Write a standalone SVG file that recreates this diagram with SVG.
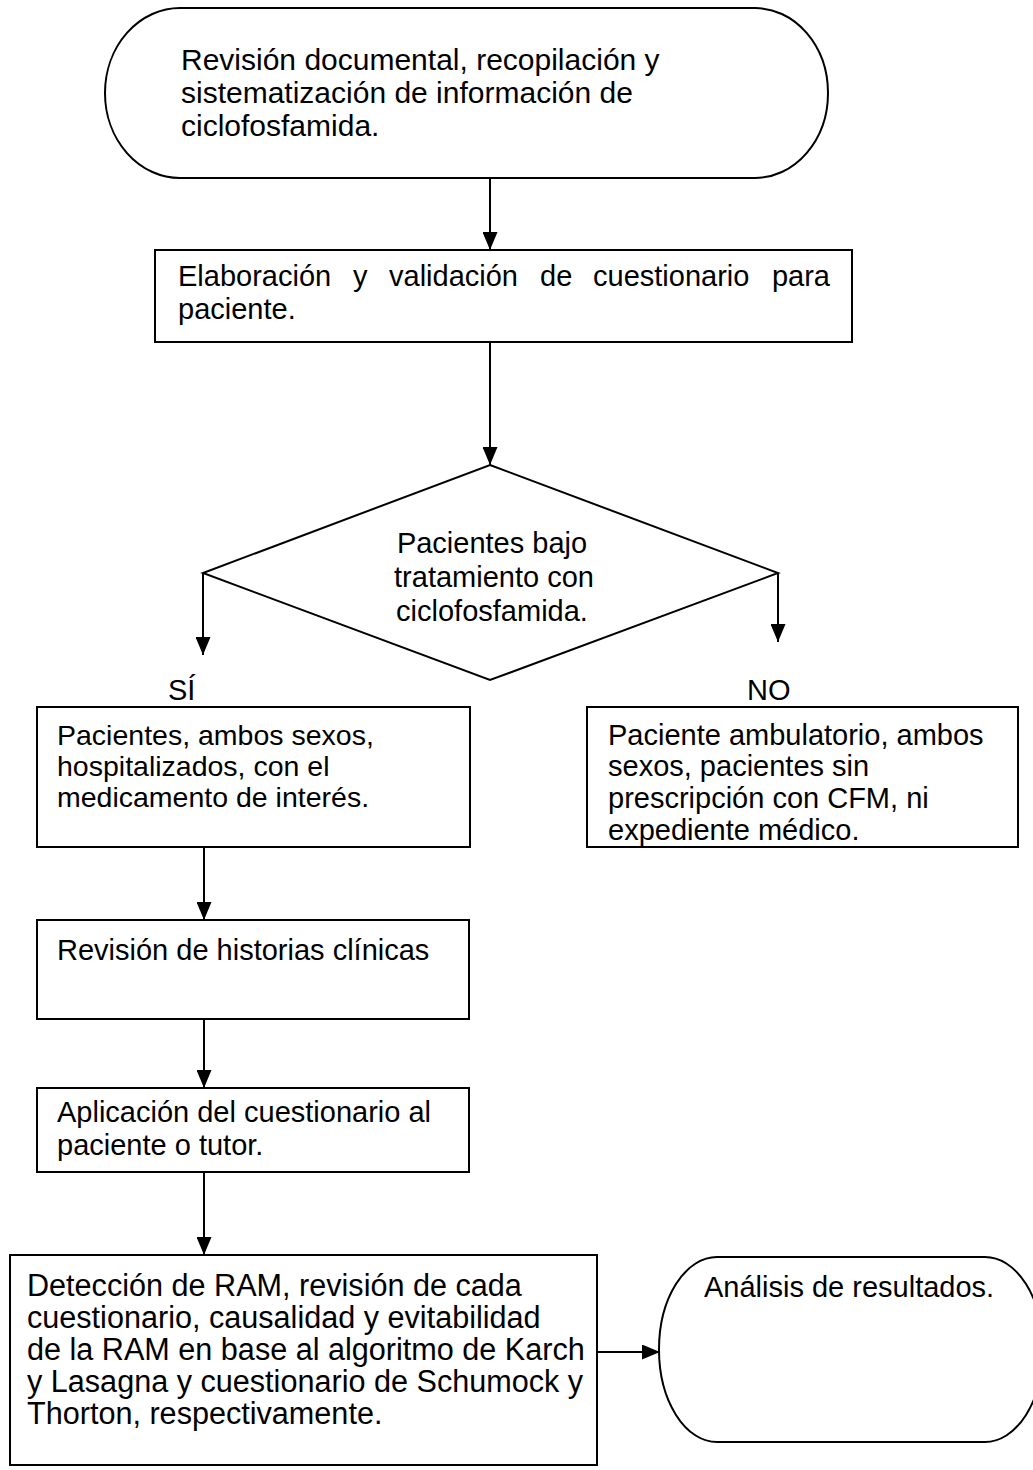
<svg xmlns="http://www.w3.org/2000/svg" width="1033" height="1470" viewBox="0 0 1033 1470">
<style>
.s{fill:#fff;stroke:#000;stroke-width:2}
.t{font-family:"Liberation Sans",Arial,sans-serif;fill:#000}
.f29{font-size:29px}
.f30{font-size:30px}
.f31{font-size:30.6px}
.f285{font-size:28.5px}
.c{stroke:#000;stroke-width:2;fill:none;marker-end:url(#ah)}
</style>
<defs>
<marker id="ah" markerUnits="userSpaceOnUse" markerWidth="18" markerHeight="15" refX="18" refY="7.5" orient="auto">
<path d="M0,0 L18,7.5 L0,15 Z" fill="#000"/>
</marker>
</defs>
<rect width="1033" height="1470" fill="#fff"/>
<g id="connectors">
<line class="c" x1="490" y1="178" x2="490" y2="250"/>
<line class="c" x1="490" y1="342" x2="490" y2="465"/>
<line class="c" x1="203" y1="573" x2="203" y2="655"/>
<line class="c" x1="778" y1="573" x2="778" y2="642"/>
<line class="c" x1="204" y1="847" x2="204" y2="920"/>
<line class="c" x1="204" y1="1019" x2="204" y2="1088"/>
<line class="c" x1="204" y1="1172" x2="204" y2="1255"/>
<line class="c" x1="597" y1="1352" x2="660" y2="1352"/>
</g>
<g id="n1">
<path class="s" d="M180,8 L755,8 A73,85 0 0 1 755,178 L180,178 A75,85 0 0 1 180,8 Z"/>
<text class="t f30"><tspan x="181" y="70">Revisión documental, recopilación  y</tspan><tspan x="181" y="103">sistematización de información de</tspan><tspan x="181" y="136">ciclofosfamida.</tspan></text>
</g>
<g id="n2">
<rect class="s" x="155" y="250" width="697" height="92"/>
<text class="t f29"><tspan x="178" y="286">Elaboración</tspan><tspan x="353" y="286">y</tspan><tspan x="389" y="286">validación</tspan><tspan x="540" y="286">de</tspan><tspan x="593" y="286">cuestionario</tspan><tspan x="830" y="286" text-anchor="end">para</tspan><tspan x="178" y="319">paciente.</tspan></text>
</g>
<g id="n3">
<path class="s" d="M490,465 L778,573 L490,680 L203,573 Z"/>
<text class="t f29" text-anchor="middle"><tspan x="492" y="553">Pacientes bajo</tspan><tspan x="494" y="587">tratamiento con</tspan><tspan x="492" y="621">ciclofosfamida.</tspan></text>
</g>
<g id="labels">
<text class="t f29" x="168" y="700">SÍ</text>
<text class="t f29" x="747" y="700">NO</text>
</g>
<g id="n4">
<rect class="s" x="37" y="707" width="433" height="140"/>
<text class="t f285"><tspan x="57" y="745">Pacientes, ambos sexos,</tspan><tspan x="57" y="776">hospitalizados, con el</tspan><tspan x="57" y="807">medicamento de interés.</tspan></text>
</g>
<g id="n5">
<rect class="s" x="587" y="707" width="431" height="140"/>
<text class="t f29"><tspan x="608" y="745">Paciente ambulatorio, ambos</tspan><tspan x="608" y="776">sexos, pacientes sin</tspan><tspan x="608" y="808">prescripción con CFM, ni</tspan><tspan x="608" y="840">expediente médico.</tspan></text>
</g>
<g id="n6">
<rect class="s" x="37" y="920" width="432" height="99"/>
<text class="t f29" x="57" y="960">Revisión de historias clínicas</text>
</g>
<g id="n7">
<rect class="s" x="37" y="1088" width="432" height="84"/>
<text class="t f29"><tspan x="57" y="1122">Aplicación del cuestionario al</tspan><tspan x="57" y="1155">paciente o tutor.</tspan></text>
</g>
<g id="n8">
<rect class="s" x="10" y="1255" width="587" height="210"/>
<text class="t f31"><tspan x="27" y="1296">Detección de RAM, revisión de cada</tspan><tspan x="27" y="1328">cuestionario, causalidad y  evitabilidad</tspan><tspan x="27" y="1360">de la RAM en base al algoritmo de Karch</tspan><tspan x="27" y="1392">y Lasagna y cuestionario de Schumock y</tspan><tspan x="27" y="1424">Thorton, respectivamente.</tspan></text>
</g>
<g id="n9">
<path class="s" d="M717,1257 L985,1257 A58,92.5 0 0 1 985,1442 L717,1442 A58,92.5 0 0 1 717,1257 Z"/>
<text class="t f29" x="704" y="1297">Análisis de resultados.</text>
</g>
</svg>
